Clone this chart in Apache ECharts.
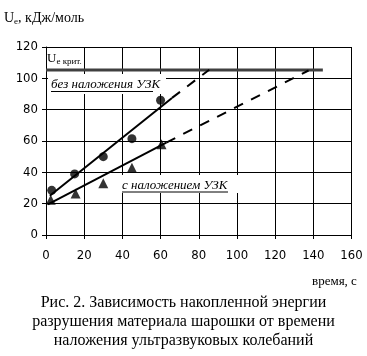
<!DOCTYPE html>
<html>
<head>
<meta charset="utf-8">
<script src="https://cdn.jsdelivr.net/npm/echarts@6/dist/echarts.min.js"></script>
<style>
html,body{margin:0;padding:0;background:#fff;}
#c{width:367px;height:356px;}
</style>
</head>
<body>
<div id="c"></div>
<script>
// Data
var xTicks = [0, 20, 40, 60, 80, 100, 120, 140, 160];
var yTicks = [0, 20, 40, 60, 80, 100, 120];
var timeNoUS = [3, 15, 30, 45, 60];
var energyNoUS = [28.5, 39, 50, 61.5, 86];
var timeUS = [2.5, 15.5, 30, 45, 60.5];
var energyUS = [22.5, 26.5, 33, 43, 58];
var trendNoUSSolid = [[2, 25], [66, 87.5]];
var trendNoUSDash = [[66, 87.5], [85.5, 105.5]];
var trendUSSolid = [[1, 19.5], [63, 59]];
var trendUSDash = [[63, 59], [137.5, 105]];
var critLevel = [[0, 105.3], [145, 105.3]];

function pairs(xs, ys) { return xs.map(function (x, i) { return [x, ys[i]]; }); }

var tickFont = '"Liberation Sans Narrow","Arial Narrow","DejaVu Sans Condensed","Liberation Sans",sans-serif';
var serif = '"Liberation Serif","Times New Roman",serif';

var chart = echarts.init(document.getElementById('c'), null, {renderer: 'canvas'});
var lineStyleBase = {color: '#000', width: 2};
chart.setOption({
  animation: false,
  backgroundColor: '#fff',
  grid: {left: 46, right: 15.5, top: 47, bottom: 121, containLabel: false},
  xAxis: {
    type: 'value', min: xTicks[0], max: xTicks[xTicks.length - 1], interval: 20,
    axisLine: {show: true, lineStyle: {color: '#000', width: 1}},
    axisTick: {show: true, length: 4, lineStyle: {color: '#000'}},
    splitLine: {show: true, lineStyle: {color: '#000', width: 1}},
    axisLabel: {color: '#000', fontFamily: tickFont, fontSize: 13, margin: 14}
  },
  yAxis: {
    type: 'value', min: yTicks[0], max: yTicks[yTicks.length - 1], interval: 20,
    axisLine: {show: true, lineStyle: {color: '#000', width: 1}},
    axisTick: {show: true, length: 4, lineStyle: {color: '#000'}},
    splitLine: {show: true, lineStyle: {color: '#000', width: 1}},
    axisLabel: {color: '#000', fontFamily: tickFont, fontSize: 13, margin: 8}
  },
  series: [
    {type: 'line', data: critLevel, symbol: 'none', lineStyle: {color: '#404040', width: 3}, z: 3},
    {type: 'line', data: trendNoUSSolid, symbol: 'none', lineStyle: lineStyleBase, z: 4},
    {type: 'line', data: trendNoUSDash, symbol: 'none', lineStyle: {color: '#000', width: 2, type: [10, 9]}, z: 4},
    {type: 'line', data: trendUSSolid, symbol: 'none', lineStyle: lineStyleBase, z: 4},
    {type: 'line', data: trendUSDash, symbol: 'none', lineStyle: {color: '#000', width: 2, type: [10, 9]}, z: 4},
    {type: 'scatter', data: pairs(timeNoUS, energyNoUS), symbol: 'circle', symbolSize: 9, itemStyle: {color: '#000'}, z: 5},
    {type: 'scatter', data: pairs(timeUS, energyUS), symbol: 'triangle', symbolSize: 10, itemStyle: {color: '#000'}, z: 5}
  ],
  graphic: [
    {type: 'text', x: 4, y: 11, z: 10, style: {
      text: '{u|U}{s|e}{u|, кДж/моль}', fill: '#000',
      rich: {u: {fontFamily: serif, fontSize: 14, fill: '#000'}, s: {fontFamily: serif, fontSize: 9, fill: '#000', padding: [6, 0, 0, 0]}}
    }},
    {type: 'text', x: 47, y: 52, z: 10, style: {
      text: '{u|U}{s|e крит.}', fill: '#000',
      rich: {u: {fontFamily: serif, fontSize: 13, fill: '#000'}, s: {fontFamily: serif, fontSize: 9, fill: '#000', padding: [5, 0, 0, 0]}}
    }},
    {type: 'rect', shape: {x: 48, y: 74, width: 118, height: 20}, style: {fill: '#fff'}, z: 1},
    {type: 'text', x: 51, y: 78, z: 10, style: {text: 'без наложения УЗК', fontFamily: serif, fontStyle: 'italic', fontSize: 13, fill: '#000'}},
    {type: 'line', shape: {x1: 51, y1: 91.5, x2: 153, y2: 91.5}, style: {stroke: '#000', lineWidth: 1}, z: 10},
    {type: 'rect', shape: {x: 118, y: 175, width: 120, height: 18}, style: {fill: '#fff'}, z: 1},
    {type: 'text', x: 122, y: 179, z: 10, style: {text: 'с наложением УЗК', fontFamily: serif, fontStyle: 'italic', fontSize: 13, fill: '#000'}},
    {type: 'line', shape: {x1: 122, y1: 192, x2: 228, y2: 192}, style: {stroke: '#000', lineWidth: 1}, z: 10},
    {type: 'text', x: 312, y: 275, z: 10, style: {text: 'время, с', fontFamily: serif, fontSize: 13, fill: '#000'}},
    {type: 'text', x: 183.5, y: 293, z: 10, style: {
      text: 'Рис. 2. Зависимость накопленной энергии\nразрушения материала шарошки от времени\nналожения ультразвуковых колебаний',
      fontFamily: serif, fontSize: 16, lineHeight: 19, align: 'center', fill: '#000'
    }}
  ]
});
</script>
</body>
</html>
